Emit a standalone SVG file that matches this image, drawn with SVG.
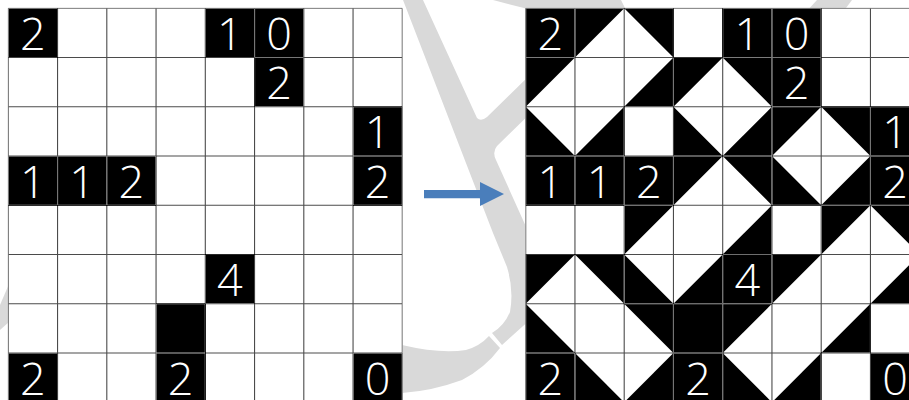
<svg xmlns="http://www.w3.org/2000/svg" xmlns:xlink="http://www.w3.org/1999/xlink" width="909" height="400" viewBox="0 0 909 400">
  <style>
    .wm { fill: #d9d9d9; }
    .bg { fill: #ffffff; }
    .blk { fill: #000000; }
    .grid { fill: none; stroke: #b4b4b4; stroke-width: 1.1; mix-blend-mode: difference; }
    .num { fill: #ffffff; font-family: "Open Sans", "Noto Sans", "Liberation Sans", sans-serif; font-weight: 300; font-size: 45px; text-anchor: middle; }
    .arrow { fill: #4A7EBB; }
  </style>
  <defs>
    <path id="tl" d="M0,0H49.25L0,49.25Z"/>
    <path id="tr" d="M0,0H49.25V49.25Z"/>
    <path id="bl" d="M0,0V49.25H49.25Z"/>
    <path id="br" d="M49.25,0V49.25H0Z"/>
    <rect id="sq" width="49.25" height="49.25"/>
    <path id="lines" d="M0,0V394M49.25,0V394M98.5,0V394M147.75,0V394M197,0V394M246.25,0V394M295.5,0V394M344.75,0V394M394,0V394M0,0H394M0,49.25H394M0,98.5H394M0,147.75H394M0,197H394M0,246.25H394M0,295.5H394M0,344.75H394M0,394H394"/>
  </defs>

  <g id="watermark">
    <path class="wm" d="M403,0 L423,0 L477,118 Q481,122 487,117 L535,70 L540,104 L497,146 Q492,152 496,160 L532,240 L532,318 L502,345 L492,333 Q504,326 510,312 Q514,290 507,267 L493,233 Z"/>
    <path class="wm" d="M489,336 L500,348 Q485,368 462,380 Q432,391 402,393 L370,393 L370,340 L402,345 Q440,354 466,350 Q480,346 489,336 Z"/>
    <path class="wm" d="M493,0 L621,0 L627,12 L530,12 L525,8.3 Z"/>
    <path class="wm" d="M817,0 L852,0 L843,12 L806,12 Z"/>
    <path class="wm" d="M9,284 L0,305 L0,330 L9,322 Z"/>
  </g>

  <g id="puzzle" transform="translate(8.3,8.3)">
    <g style="isolation:isolate">
      <rect class="bg" width="394" height="394"/>
      <g class="blk">
        <use xlink:href="#sq" x="0" y="0"/>
        <use xlink:href="#sq" x="197" y="0"/>
        <use xlink:href="#sq" x="246.25" y="0"/>
        <use xlink:href="#sq" x="246.25" y="49.25"/>
        <use xlink:href="#sq" x="344.75" y="98.5"/>
        <use xlink:href="#sq" x="0" y="147.75"/>
        <use xlink:href="#sq" x="49.25" y="147.75"/>
        <use xlink:href="#sq" x="98.5" y="147.75"/>
        <use xlink:href="#sq" x="344.75" y="147.75"/>
        <use xlink:href="#sq" x="197" y="246.25"/>
        <use xlink:href="#sq" x="147.75" y="295.5"/>
        <use xlink:href="#sq" x="0" y="344.75"/>
        <use xlink:href="#sq" x="147.75" y="344.75"/>
        <use xlink:href="#sq" x="344.75" y="344.75"/>
      </g>
      <use xlink:href="#lines" class="grid"/>
    </g>
    <g class="num">
      <text x="24.6" y="41.5">2</text>
      <text x="221.6" y="41.5">1</text>
      <text x="270.9" y="41.5">0</text>
      <text x="270.9" y="90.75">2</text>
      <text x="369.4" y="140">1</text>
      <text x="24.6" y="189.25">1</text>
      <text x="73.9" y="189.25">1</text>
      <text x="123.1" y="189.25">2</text>
      <text x="369.4" y="189.25">2</text>
      <text x="221.6" y="287.75">4</text>
      <text x="24.6" y="386.25">2</text>
      <text x="172.4" y="386.25">2</text>
      <text x="369.4" y="386.25">0</text>
    </g>
  </g>

  <g id="solution" transform="translate(525.7,8.3)">
    <g style="isolation:isolate">
      <rect class="bg" width="394" height="394"/>
      <g class="blk">
        <use xlink:href="#sq" x="0" y="0"/>
        <use xlink:href="#sq" x="197" y="0"/>
        <use xlink:href="#sq" x="246.25" y="0"/>
        <use xlink:href="#sq" x="246.25" y="49.25"/>
        <use xlink:href="#sq" x="344.75" y="98.5"/>
        <use xlink:href="#sq" x="0" y="147.75"/>
        <use xlink:href="#sq" x="49.25" y="147.75"/>
        <use xlink:href="#sq" x="98.5" y="147.75"/>
        <use xlink:href="#sq" x="344.75" y="147.75"/>
        <use xlink:href="#sq" x="197" y="246.25"/>
        <use xlink:href="#sq" x="147.75" y="295.5"/>
        <use xlink:href="#sq" x="0" y="344.75"/>
        <use xlink:href="#sq" x="147.75" y="344.75"/>
        <use xlink:href="#sq" x="344.75" y="344.75"/>
        <use xlink:href="#tl" x="49.25" y="0"/>
        <use xlink:href="#tr" x="98.5" y="0"/>
        <use xlink:href="#tl" x="0" y="49.25"/>
        <use xlink:href="#br" x="98.5" y="49.25"/>
        <use xlink:href="#tl" x="147.75" y="49.25"/>
        <use xlink:href="#tr" x="197" y="49.25"/>
        <use xlink:href="#bl" x="0" y="98.5"/>
        <use xlink:href="#br" x="49.25" y="98.5"/>
        <use xlink:href="#bl" x="147.75" y="98.5"/>
        <use xlink:href="#br" x="197" y="98.5"/>
        <use xlink:href="#tl" x="246.25" y="98.5"/>
        <use xlink:href="#tr" x="295.5" y="98.5"/>
        <use xlink:href="#tl" x="147.75" y="147.75"/>
        <use xlink:href="#tr" x="197" y="147.75"/>
        <use xlink:href="#bl" x="246.25" y="147.75"/>
        <use xlink:href="#br" x="295.5" y="147.75"/>
        <use xlink:href="#tl" x="98.5" y="197"/>
        <use xlink:href="#br" x="197" y="197"/>
        <use xlink:href="#tl" x="295.5" y="197"/>
        <use xlink:href="#tr" x="344.75" y="197"/>
        <use xlink:href="#tl" x="0" y="246.25"/>
        <use xlink:href="#tr" x="49.25" y="246.25"/>
        <use xlink:href="#bl" x="98.5" y="246.25"/>
        <use xlink:href="#br" x="147.75" y="246.25"/>
        <use xlink:href="#tl" x="246.25" y="246.25"/>
        <use xlink:href="#br" x="344.75" y="246.25"/>
        <use xlink:href="#bl" x="0" y="295.5"/>
        <use xlink:href="#tr" x="98.5" y="295.5"/>
        <use xlink:href="#tl" x="197" y="295.5"/>
        <use xlink:href="#br" x="295.5" y="295.5"/>
        <use xlink:href="#bl" x="49.25" y="344.75"/>
        <use xlink:href="#br" x="98.5" y="344.75"/>
        <use xlink:href="#bl" x="197" y="344.75"/>
        <use xlink:href="#br" x="246.25" y="344.75"/>
      </g>
      <use xlink:href="#lines" class="grid"/>
    </g>
    <g class="num">
      <text x="24.6" y="41.5">2</text>
      <text x="221.6" y="41.5">1</text>
      <text x="270.9" y="41.5">0</text>
      <text x="270.9" y="90.75">2</text>
      <text x="369.4" y="140">1</text>
      <text x="24.6" y="189.25">1</text>
      <text x="73.9" y="189.25">1</text>
      <text x="123.1" y="189.25">2</text>
      <text x="369.4" y="189.25">2</text>
      <text x="221.6" y="287.75">4</text>
      <text x="24.6" y="386.25">2</text>
      <text x="172.4" y="386.25">2</text>
      <text x="369.4" y="386.25">0</text>
    </g>
  </g>

  <g id="connectors">
    <path class="arrow" d="M424,190 H480 V182 L504,194 L480,206 V198.3 H424 Z"/>
  </g>
</svg>
